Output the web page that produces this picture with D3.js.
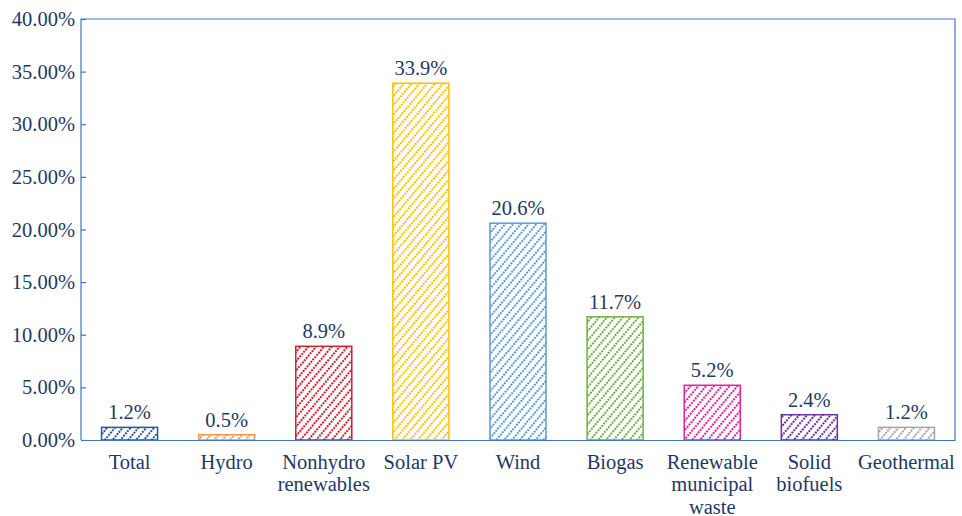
<!DOCTYPE html>
<html><head><meta charset="utf-8">
<script src="https://cdn.jsdelivr.net/npm/d3@7"></script>
<style>body{margin:0;background:#fff}svg{display:block}</style>
</head><body>
<svg id="c" width="962" height="516"></svg>
<script>
const categories = [["Total"],["Hydro"],["Nonhydro","renewables"],["Solar PV"],["Wind"],["Biogas"],["Renewable","municipal","waste"],["Solid","biofuels"],["Geothermal"]];
const values = [1.2, 0.5, 8.9, 33.9, 20.6, 11.7, 5.2, 2.4, 1.2];
const valueLabels = ["1.2%","0.5%","8.9%","33.9%","20.6%","11.7%","5.2%","2.4%","1.2%"];
const colors = ["#2F5597","#F4934A","#D0202E","#FFC000","#5B9BD5","#70AD47","#E0249A","#7030A0","#A5A5A5"];
const yTicks = [0,5,10,15,20,25,30,35,40];

const svg = d3.select("#c");
const L = 81, R = 955, T = 19, B = 440;
const textColor = "#1F3864";
const axisColor = "#4472C4";
const font = "Liberation Serif, Times New Roman, serif";
const fs = "20.5px";

const x = d3.scaleBand().domain(d3.range(categories.length)).range([L, R]).paddingInner(0.423).paddingOuter(0.2115);
const y = d3.scaleLinear().domain([0, 40]).range([B, T]);

const defs = svg.append("defs");
colors.forEach((c, i) => {
  const p = defs.append("pattern").attr("id", "h" + i).attr("patternUnits", "userSpaceOnUse")
    .attr("width", 6).attr("height", 6).attr("patternTransform", "rotate(-50)");
  p.append("rect").attr("width", 6).attr("height", 6).attr("fill", "#fff");
  p.append("line").attr("x1", 0).attr("x2", 6).attr("y1", 3).attr("y2", 3)
    .attr("stroke", c).attr("stroke-width", 2).attr("stroke-dasharray", "2,1");
});

// frame
svg.append("path").attr("d", `M${L},${B}V${T}H${R}V${B}`).attr("fill", "none").attr("stroke", axisColor).attr("stroke-width", 1.2);

// y axis
const yAxis = svg.append("g").attr("transform", `translate(${L},0)`)
  .call(d3.axisLeft(y).tickValues(yTicks).tickSize(-5).tickPadding(6).tickFormat(d => d.toFixed(2) + "%"));
yAxis.select(".domain").remove();
yAxis.selectAll("line").attr("stroke", axisColor).attr("stroke-width", 1.2);
yAxis.selectAll("text").attr("fill", textColor).attr("font-family", font).attr("font-size", fs);

// bars
svg.selectAll("rect.bar").data(values).join("rect").attr("class", "bar")
  .attr("x", (d, i) => x(i)).attr("width", x.bandwidth())
  .attr("y", d => y(d)).attr("height", d => B - y(d))
  .attr("fill", (d, i) => `url(#h${i})`).attr("stroke", (d, i) => colors[i]).attr("stroke-width", 1.5);

// value labels
svg.selectAll("text.val").data(values).join("text").attr("class", "val")
  .attr("x", (d, i) => x(i) + x.bandwidth() / 2).attr("y", d => y(d) - 8)
  .attr("text-anchor", "middle").attr("fill", textColor)
  .attr("font-family", font).attr("font-size", fs).text((d, i) => valueLabels[i]);

// x axis
const xAxis = svg.append("g").attr("transform", `translate(0,${B})`)
  .call(d3.axisBottom(x).tickSize(0).tickFormat(""));
xAxis.select(".domain").attr("stroke", axisColor).attr("stroke-width", 1.2);

const xl = svg.selectAll("text.cat").data(categories).join("text").attr("class", "cat")
  .attr("text-anchor", "middle").attr("fill", textColor)
  .attr("font-family", font).attr("font-size", fs);
xl.each(function(lines, i) {
  const t = d3.select(this);
  lines.forEach((s, j) => {
    t.append("tspan").attr("x", x(i) + x.bandwidth() / 2).attr("y", B + 28.5 + j * 22.5).text(s);
  });
});
</script>
</body></html>
